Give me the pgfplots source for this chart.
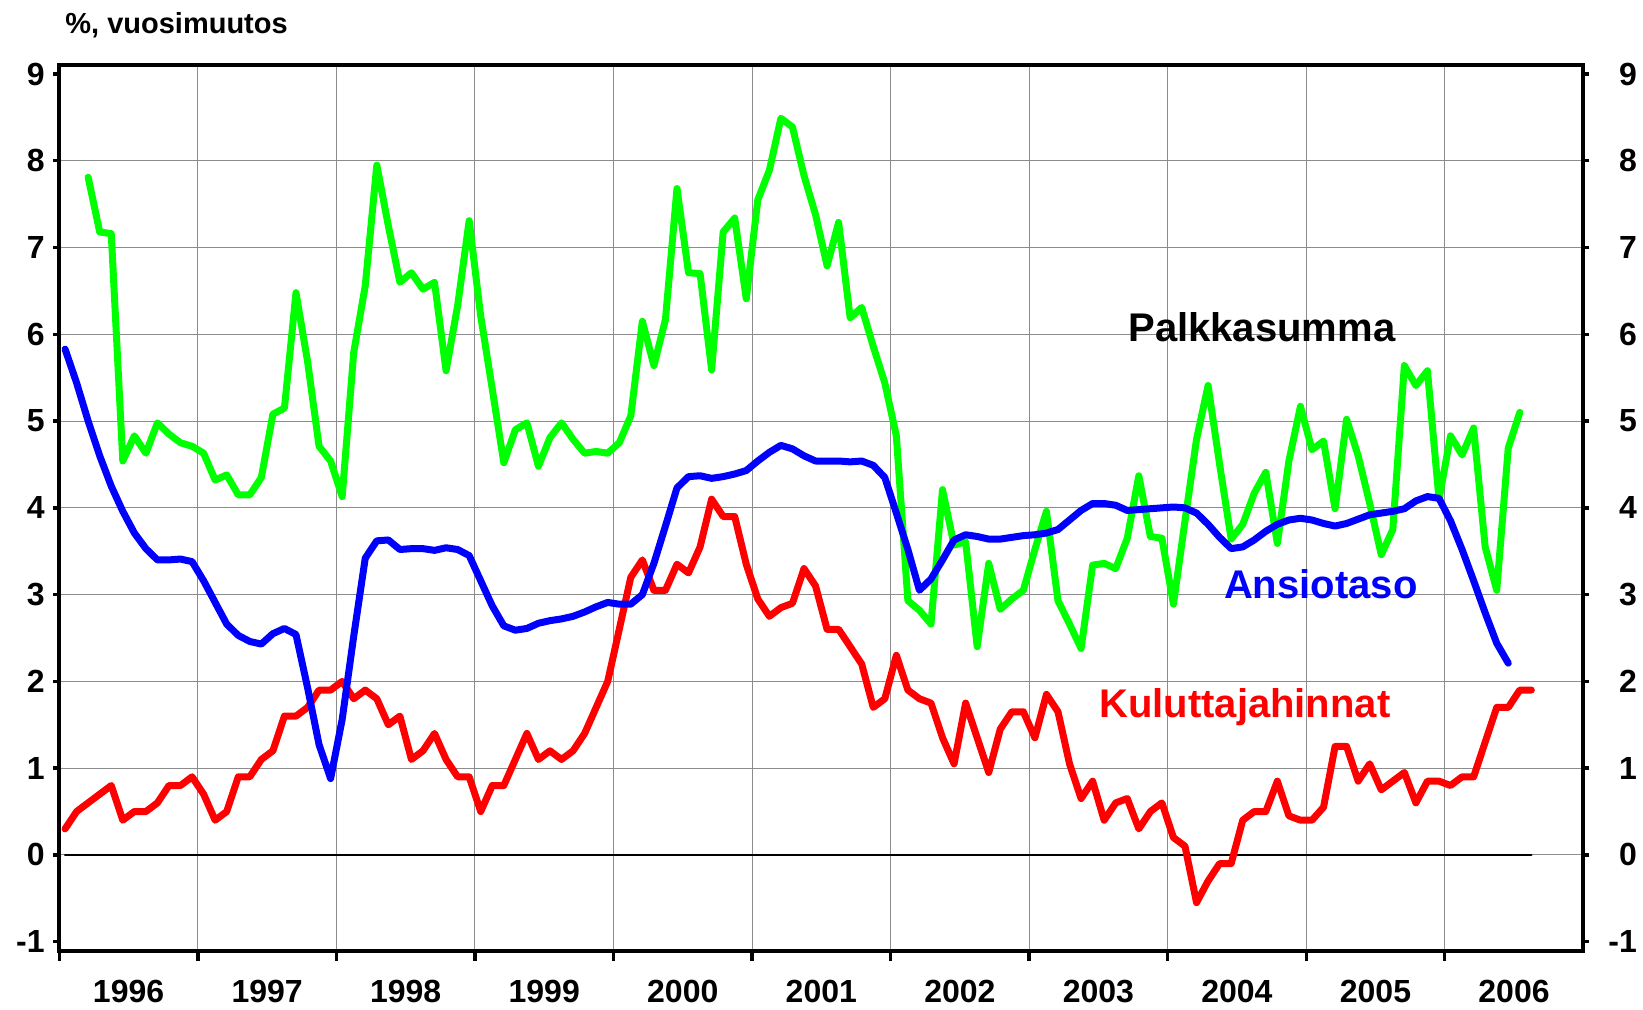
\documentclass[border=0pt]{standalone}
\usepackage{fontspec}
\setmainfont{Liberation Sans}
\usepackage{pgfplots}
\pgfplotsset{compat=1.18}
\usepackage{pgfplotstable}
\definecolor{gridgray}{RGB}{140,140,140}
\definecolor{cpired}{RGB}{255,0,0}
\definecolor{wageblue}{RGB}{0,0,255}
\definecolor{paygreen}{RGB}{0,255,0}

% Kuluttajahinnat, Jan 1996 - Aug 2006
\pgfplotstableread[row sep=\\]{
y\\
0.3\\0.5\\0.6\\0.7\\0.8\\0.4\\0.5\\0.5\\0.6\\0.8\\0.8\\0.9\\
0.7\\0.4\\0.5\\0.9\\0.9\\1.1\\1.2\\1.6\\1.6\\1.7\\1.9\\1.9\\
2.0\\1.8\\1.9\\1.8\\1.5\\1.6\\1.1\\1.2\\1.4\\1.1\\0.9\\0.9\\
0.5\\0.8\\0.8\\1.1\\1.4\\1.1\\1.2\\1.1\\1.2\\1.4\\1.7\\2.0\\
2.6\\3.2\\3.4\\3.05\\3.05\\3.35\\3.25\\3.55\\4.1\\3.9\\3.9\\3.35\\
2.95\\2.75\\2.85\\2.9\\3.3\\3.1\\2.6\\2.6\\2.4\\2.2\\1.7\\1.8\\
2.3\\1.9\\1.8\\1.75\\1.35\\1.05\\1.75\\1.35\\0.95\\1.45\\1.65\\1.65\\
1.35\\1.85\\1.65\\1.05\\0.65\\0.85\\0.4\\0.6\\0.65\\0.3\\0.5\\0.6\\
0.2\\0.1\\-0.55\\-0.3\\-0.1\\-0.1\\0.4\\0.5\\0.5\\0.85\\0.45\\0.4\\
0.4\\0.55\\1.25\\1.25\\0.85\\1.05\\0.75\\0.85\\0.95\\0.6\\0.85\\0.85\\
0.8\\0.9\\0.9\\1.3\\1.7\\1.7\\1.9\\1.9\\
}\redtab

% Ansiotaso, Jan 1996 - Jun 2006
\pgfplotstableread[row sep=\\]{
y\\
5.83\\5.44\\5.0\\4.6\\4.25\\3.96\\3.71\\3.53\\3.40\\3.40\\3.41\\3.38\\
3.16\\2.91\\2.66\\2.53\\2.46\\2.43\\2.55\\2.61\\2.54\\1.93\\1.27\\0.88\\
1.56\\2.52\\3.42\\3.62\\3.63\\3.52\\3.53\\3.53\\3.51\\3.54\\3.52\\3.45\\
3.16\\2.87\\2.64\\2.59\\2.61\\2.67\\2.70\\2.72\\2.75\\2.80\\2.86\\2.91\\
2.89\\2.89\\3.0\\3.36\\3.79\\4.23\\4.36\\4.37\\4.34\\4.36\\4.39\\4.43\\
4.54\\4.64\\4.72\\4.68\\4.60\\4.54\\4.54\\4.54\\4.53\\4.54\\4.49\\4.35\\
3.94\\3.52\\3.05\\3.18\\3.40\\3.63\\3.69\\3.67\\3.64\\3.64\\3.66\\3.68\\
3.69\\3.71\\3.75\\3.86\\3.97\\4.05\\4.05\\4.03\\3.97\\3.98\\3.99\\4.0\\
4.01\\4.0\\3.94\\3.81\\3.66\\3.53\\3.55\\3.63\\3.73\\3.81\\3.86\\3.88\\
3.86\\3.82\\3.79\\3.82\\3.87\\3.92\\3.94\\3.96\\3.99\\4.08\\4.13\\4.11\\
3.85\\3.52\\3.16\\2.79\\2.44\\2.21\\
}\bluetab

% Palkkasumma, Mar 1996 - Jul 2006
\pgfplotstableread[row sep=\\]{
y\\
7.81\\7.18\\7.16\\4.54\\4.83\\4.63\\4.98\\4.85\\4.75\\4.71\\
4.63\\4.32\\4.38\\4.15\\4.15\\4.35\\5.08\\5.15\\6.48\\5.69\\4.71\\4.54\\
4.13\\5.79\\6.56\\7.95\\7.25\\6.60\\6.71\\6.52\\6.60\\5.58\\6.33\\7.31\\
6.21\\5.37\\4.52\\4.90\\4.98\\4.48\\4.81\\4.98\\4.79\\4.63\\4.65\\4.63\\
4.75\\5.06\\6.15\\5.64\\6.17\\7.68\\6.71\\6.70\\5.59\\7.18\\7.34\\6.41\\
7.55\\7.89\\8.49\\8.39\\7.83\\7.38\\6.79\\7.29\\6.19\\6.31\\5.86\\5.44\\
4.83\\2.93\\2.82\\2.66\\4.21\\3.57\\3.61\\2.40\\3.36\\2.83\\2.95\\3.05\\
3.52\\3.96\\2.93\\2.66\\2.38\\3.34\\3.36\\3.30\\3.65\\4.37\\3.67\\3.65\\
2.89\\3.85\\4.79\\5.41\\4.5\\3.64\\3.81\\4.17\\4.41\\3.59\\4.54\\5.17\\
4.67\\4.77\\3.99\\5.02\\4.6\\4.05\\3.46\\3.75\\5.64\\5.41\\5.58\\4.1\\
4.83\\4.61\\4.92\\3.55\\3.05\\4.69\\5.1\\
}\greentab

\pgfplotsset{
  base/.style={at={(0,0)}, anchor=south west, scale only axis,
    width=762pt, height=442.85pt,
    xmin=0, xmax=132, ymin=-1.104, ymax=9.104},
  numfont/.style={font=\bfseries\fontsize{16}{16}\selectfont},
}

\begin{document}
\begin{tikzpicture}
\useasboundingbox (-29.65pt,-29.15pt) rectangle (791.85pt,475.35pt);

\begin{axis}[base, name=main,
  axis line style={line width=1.9pt},
  xtick={0,12,...,120},
  xticklabels={1996,1997,1998,1999,2000,2001,2002,2003,2004,2005,2006},
  ytick={0,...,8}, extra y ticks={-1,9}, extra y tick style={grid=none},
  yticklabel={\pgfmathparse{int(round(\tick))}\pgfmathresult},
  xmajorgrids, ymajorgrids, grid style={line width=0.5pt, gridgray},
  major tick length=0pt, tick style={draw=none},
  xtick pos=bottom, ytick pos=left,
  xticklabel style={numfont, anchor=north, inner sep=0pt, xshift=34.64pt, yshift=-14.65pt},
  yticklabel style={numfont, anchor=east, inner sep=0pt, xshift=-7.15pt},
  every axis plot/.append style={line cap=round, line join=round},
]
\addplot[black, line width=1.2pt] coordinates {(0.5,0) (127.5,0)};
\addplot[paygreen, line width=3.5pt] table[x expr=\coordindex+2.5, y=y] {\greentab};
\addplot[cpired, line width=3.5pt] table[x expr=\coordindex+0.5, y=y] {\redtab};
\addplot[wageblue, line width=3.5pt] table[x expr=\coordindex+0.5, y=y] {\bluetab};
\node[anchor=base, font=\bfseries\fontsize{20}{20}\selectfont] at (axis cs:104.16,5.92) {Palkkasumma};
\node[anchor=base, text=wageblue, font=\bfseries\fontsize{20}{20}\selectfont] at (axis cs:109.26,2.95) {Ansiotaso};
\node[anchor=base, text=cpired, font=\bfseries\fontsize{20}{20}\selectfont] at (axis cs:102.68,1.58) {Kuluttajahinnat};
\end{axis}

% y ticks on both sides, labels on the right
\begin{axis}[base,
  axis x line=none,
  axis line style={line width=1.9pt},
  ytick={-1,...,9}, ytick pos=both, yticklabel pos=right,
  yticklabel={\pgfmathparse{int(round(\tick))}\pgfmathresult},
  major tick length=3pt, tick align=outside, tick style={line width=1.7pt, black},
  yticklabel style={numfont, anchor=east, inner sep=0pt, xshift=24pt},
]
\end{axis}

% x ticks
\begin{axis}[base,
  axis y line=none, axis x line*=bottom,
  axis line style={line width=1.9pt},
  xtick={0,12,...,120}, xticklabels={},
  major tick length=5pt, tick align=outside, tick style={line width=1.7pt, black},
]
\end{axis}

\node[anchor=base west, inner sep=0pt, font=\bfseries\fontsize{14.5}{14.5}\selectfont]
  at ([xshift=2.85pt,yshift=16pt]main.north west) {\%, vuosimuutos};
\end{tikzpicture}
\end{document}
